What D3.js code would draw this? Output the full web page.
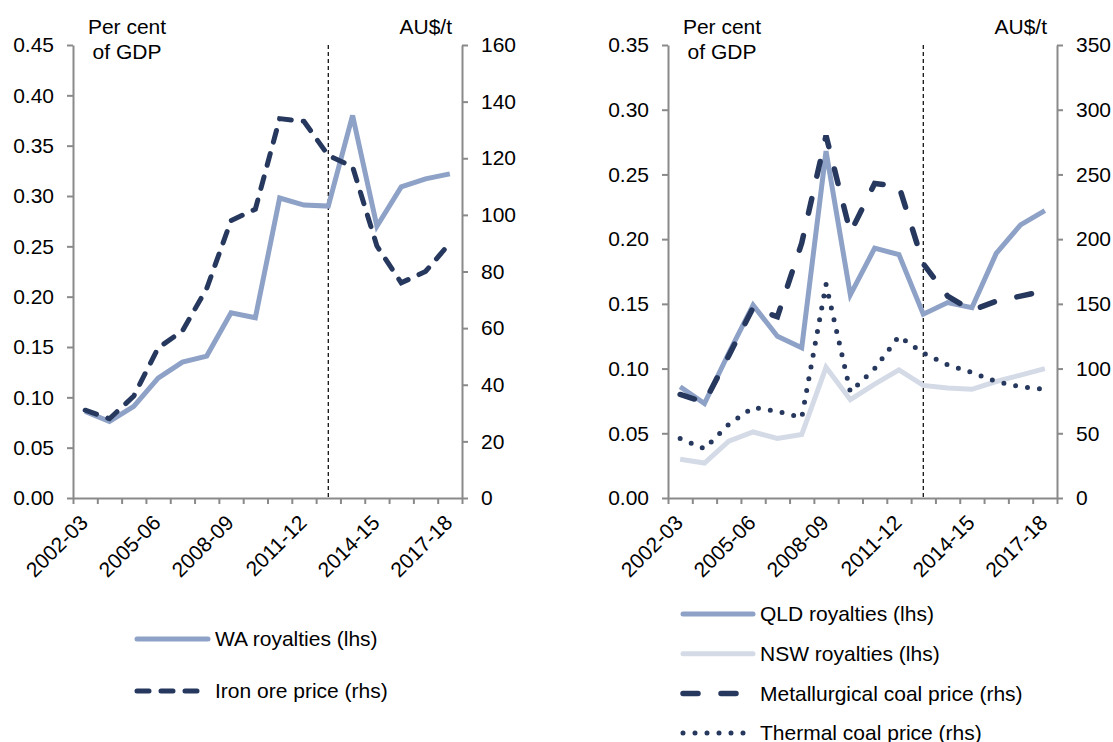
<!DOCTYPE html>
<html>
<head>
<meta charset="utf-8">
<script src="https://cdn.jsdelivr.net/npm/d3@7"></script>
<style>
  html, body { margin: 0; padding: 0; background: #fff; }
  svg { display: block; font-family: "Liberation Sans", Arial, sans-serif; }
  .axis path, .axis line { stroke: #8a8a8a; stroke-width: 2; }
  .axis text { font-size: 21px; fill: #000; font-family: "Liberation Sans", Arial, sans-serif; }
</style>
</head>
<body>
<svg id="chart" width="1113" height="742"></svg>
<script>
// financial years on the x axis
const years = ['2002-03', '2003-04', '2004-05', '2005-06', '2006-07', '2007-08', '2008-09', '2009-10',
  '2010-11', '2011-12', '2012-13', '2013-14', '2014-15', '2015-16', '2016-17', '2017-18'];
const yearLabels = ['2002-03', '2005-06', '2008-09', '2011-12', '2014-15', '2017-18'];
const splitYear = '2012-13';

// left panel: per cent of GDP (lhs), AU$/t (rhs)
const waRoyalties = [0.086, 0.076, 0.091, 0.119, 0.135, 0.141, 0.184, 0.179, 0.298, 0.291, 0.290, 0.380, 0.270, 0.309, 0.317, 0.322];
const ironOrePrice = [31, 28, 36, 53, 59, 74, 98, 102, 134, 133, 121, 117, 89, 76, 80, 90];

// right panel
const qldRoyalties = [0.086, 0.073, 0.112, 0.149, 0.125, 0.116, 0.268, 0.157, 0.193, 0.188, 0.142, 0.151, 0.147, 0.189, 0.211, 0.222];
const nswRoyalties = [0.030, 0.027, 0.044, 0.051, 0.046, 0.049, 0.101, 0.076, 0.088, 0.099, 0.087, 0.085, 0.084, 0.090, 0.095, 0.100];
const metCoalPrice = [80, 74, 110, 147, 140, 197, 280, 205, 243, 241, 181, 156, 145, 152, 156, 160];
const thermalCoalPrice = [46, 38, 57, 70, 67, 62, 165, 82, 100, 125, 112, 103, 97, 90, 86, 84];

const lhsTicksLeft = [0, 0.05, 0.10, 0.15, 0.20, 0.25, 0.30, 0.35, 0.40, 0.45];
const rhsTicksLeft = [0, 20, 40, 60, 80, 100, 120, 140, 160];
const lhsTicksRight = [0, 0.05, 0.10, 0.15, 0.20, 0.25, 0.30, 0.35];
const rhsTicksRight = [0, 50, 100, 150, 200, 250, 300, 350];

const colors = {
  royalty: '#8ea1c6',
  nsw: '#d4dbe7',
  price: '#26385e'
};

const styles = {
  solid: { width: 5, dash: null, cap: 'butt' },
  shortDash: { width: 5, dash: '12 12', cap: 'round' },
  longDash: { width: 5.5, dash: '15 23', cap: 'round' },
  dots: { width: 5, dash: '0 12', cap: 'round' }
};

const svg = d3.select('#chart');
svg.append('rect').attr('width', 1113).attr('height', 742).attr('fill', '#fff');

const plotTop = 45, plotBottom = 498;

function drawPanel(cfg) {
  const g = svg.append('g');
  let x = d3.scaleBand().domain(years).range([cfg.x0, cfg.x1]);
  let xi = d3.scaleLinear().domain([0, years.length]).range([cfg.x0, cfg.x1]);
  let yL = d3.scaleLinear().domain([0, d3.max(cfg.lhsTicks)]).range([plotBottom, plotTop]);
  let yR = d3.scaleLinear().domain([0, d3.max(cfg.rhsTicks)]).range([plotBottom, plotTop]);
  let cx = (yr) => x(yr) + x.bandwidth() / 2;

  // axes
  g.append('g').attr('class', 'axis')
    .attr('transform', `translate(${cfg.x0},0)`)
    .call(d3.axisLeft(yL).tickValues(cfg.lhsTicks).tickFormat(d3.format('.2f'))
      .tickSize(6).tickSizeOuter(0).tickPadding(13));
  g.append('g').attr('class', 'axis')
    .attr('transform', `translate(${cfg.x1},0)`)
    .call(d3.axisRight(yR).tickValues(cfg.rhsTicks).tickFormat(d3.format('d'))
      .tickSize(6).tickSizeOuter(0).tickPadding(13));
  g.append('g').attr('class', 'axis')
    .attr('transform', `translate(0,${plotBottom})`)
    .call(d3.axisBottom(xi).tickValues(d3.range(years.length + 1)).tickFormat('')
      .tickSize(6).tickSizeOuter(0));

  g.selectAll('.xlabel')
    .data(yearLabels)
    .enter()
    .append('text')
    .attr('class', 'xlabel')
    .attr('transform', (d) => `translate(${cx(d) + 4},${plotBottom + 26}) rotate(-45)`)
    .attr('text-anchor', 'end')
    .style('font-size', '21px')
    .text((d) => d);

  // forecast divider
  g.append('line')
    .attr('x1', cx(splitYear)).attr('x2', cx(splitYear))
    .attr('y1', plotTop).attr('y2', plotBottom)
    .attr('stroke', '#000').attr('stroke-width', 1.2)
    .attr('stroke-dasharray', '4 3');

  // unit labels
  let unitX = cfg.x0 + 54;
  g.append('text').attr('x', unitX).attr('y', 34).attr('text-anchor', 'middle')
    .style('font-size', '21px').text('Per cent');
  g.append('text').attr('x', unitX).attr('y', 59).attr('text-anchor', 'middle')
    .style('font-size', '21px').text('of GDP');
  g.append('text').attr('x', cfg.x1 - 10).attr('y', 34).attr('text-anchor', 'end')
    .style('font-size', '21px').text('AU$/t');

  // series
  cfg.series.forEach((s) => {
    let y = s.axis === 'lhs' ? yL : yR;
    let st = styles[s.style];
    let line = d3.line()
      .x((d, i) => cx(years[i]))
      .y((d) => y(d));
    g.append('path')
      .datum(s.values)
      .attr('d', line)
      .attr('fill', 'none')
      .attr('stroke', s.color)
      .attr('stroke-width', st.width)
      .attr('stroke-linecap', st.cap)
      .attr('stroke-dasharray', st.dash);
  });

  // legend
  let legend = g.selectAll('.legend')
    .data(cfg.series.slice().sort((a, b) => a.order - b.order))
    .enter()
    .append('g')
    .attr('class', 'legend')
    .attr('transform', (d, i) => `translate(${cfg.legendX},${cfg.legendY + i * cfg.legendStep})`);
  legend.append('line')
    .attr('x1', 0).attr('x2', cfg.legendLen)
    .attr('y1', 0).attr('y2', 0)
    .attr('stroke', (d) => d.color)
    .attr('stroke-width', (d) => styles[d.style].width)
    .attr('stroke-linecap', 'round')
    .attr('stroke-dasharray', (d) => styles[d.style].dash);
  legend.append('text')
    .attr('x', cfg.legendLen + 7)
    .attr('y', 0)
    .attr('dy', '0.35em')
    .style('font-size', '21px')
    .text((d) => d.name);
}

drawPanel({
  x0: 73, x1: 462,
  lhsTicks: lhsTicksLeft, rhsTicks: rhsTicksLeft,
  legendX: 137, legendY: 639, legendStep: 52, legendLen: 71,
  series: [
    { name: 'WA royalties (lhs)', values: waRoyalties, axis: 'lhs', color: colors.royalty, style: 'solid', order: 0 },
    { name: 'Iron ore price (rhs)', values: ironOrePrice, axis: 'rhs', color: colors.price, style: 'shortDash', order: 1 }
  ]
});

drawPanel({
  x0: 668, x1: 1057,
  lhsTicks: lhsTicksRight, rhsTicks: rhsTicksRight,
  legendX: 683, legendY: 614, legendStep: 39.7, legendLen: 70,
  series: [
    { name: 'NSW royalties (lhs)', values: nswRoyalties, axis: 'lhs', color: colors.nsw, style: 'solid', order: 1 },
    { name: 'QLD royalties (lhs)', values: qldRoyalties, axis: 'lhs', color: colors.royalty, style: 'solid', order: 0 },
    { name: 'Thermal coal price (rhs)', values: thermalCoalPrice, axis: 'rhs', color: colors.price, style: 'dots', order: 3 },
    { name: 'Metallurgical coal price (rhs)', values: metCoalPrice, axis: 'rhs', color: colors.price, style: 'longDash', order: 2 }
  ]
});
</script>
</body>
</html>
